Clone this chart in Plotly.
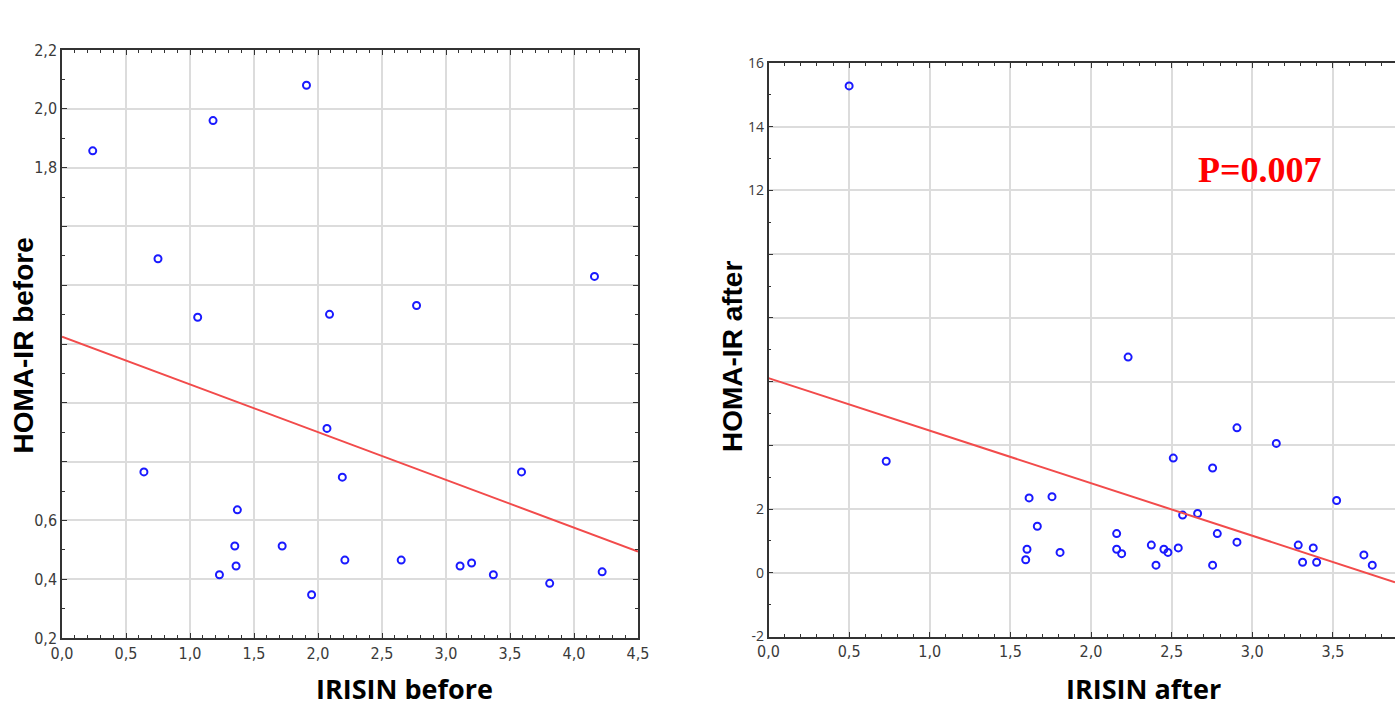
import plotly.graph_objects as go

# ---------------- data ----------------
irisin_before = [0.24, 1.18, 1.91, 0.75, 1.06, 2.09, 2.77, 4.16, 2.07, 0.64, 3.59, 2.19,
                 1.37, 1.35, 1.72, 1.36, 1.23, 2.21, 2.65, 3.11, 3.20, 3.37, 3.81, 4.22, 1.95]
homa_before = [1.857, 1.960, 2.080, 1.490, 1.291, 1.301, 1.331, 1.430, 0.913, 0.765, 0.765, 0.747,
               0.636, 0.513, 0.513, 0.445, 0.415, 0.465, 0.465, 0.445, 0.455, 0.415, 0.386, 0.425, 0.347]

irisin_after = [0.50, 0.73, 2.23, 2.905, 3.149, 2.510, 2.754, 1.616, 1.758, 3.523, 2.568, 2.661,
                1.667, 2.159, 2.783, 2.905, 2.374, 1.603, 2.159, 2.452, 2.541, 3.285, 3.378,
                3.692, 1.808, 2.190, 2.477, 1.595, 2.403, 2.754, 3.312, 3.399, 3.744]
homa_after = [15.28, 3.50, 6.77, 4.55, 4.06, 3.60, 3.29, 2.35, 2.39, 2.27, 1.81, 1.86,
              1.46, 1.23, 1.23, 0.96, 0.87, 0.74, 0.74, 0.74, 0.78, 0.87, 0.78,
              0.56, 0.64, 0.60, 0.64, 0.41, 0.24, 0.24, 0.33, 0.33, 0.24]

# regression lines (intercept, slope) as drawn
fit_before = (1.225, -0.1624)
fit_after = (6.11, -1.649)

x_range_before = [0.0, 4.5]
y_range_before = [0.2, 2.2]
x_range_after = [0.0, 3.885]
y_range_after = [-2, 16]

x_ticks_before = [0.0, 0.5, 1.0, 1.5, 2.0, 2.5, 3.0, 3.5, 4.0, 4.5]
y_ticks_before = [0.2, 0.4, 0.6, 0.8, 1.0, 1.2, 1.4, 1.6, 1.8, 2.0, 2.2]
y_ticktext_before = ["0,2", "0,4", "0,6", "", "", "", "", "", "1,8", "2,0", "2,2"]
y_minor_before = [0.3, 0.5, 0.7, 0.9, 1.1, 1.3, 1.5, 1.7, 1.9, 2.1]
x_ticks_after = [0.0, 0.5, 1.0, 1.5, 2.0, 2.5, 3.0, 3.5]
y_ticks_after = [-2, 0, 2, 4, 6, 8, 10, 12, 14, 16]
y_ticktext_after = ["-2", "0", "2", "", "", "", "", "12", "14", "16"]

p_text = "P=0.007"

# ---------------- figure ----------------
W, H = 1395, 708
BLUE = "#1a1aff"
RED = "#f24b4b"
GRID = "#dcdcdc"
AXIS = "#333333"
NARROW = "Liberation Sans Narrow, DejaVu Sans Condensed, Arial Narrow, sans-serif"
TITLE_Y = "Liberation Sans, Arial, sans-serif"
TITLE_X = "Open Sans, Liberation Sans, sans-serif"


def px(v):
    return v / W


def py(v):
    return 1 - v / H


fig = go.Figure()

marker = dict(symbol="circle-open", size=7, color=BLUE, line=dict(width=2, color=BLUE))

fig.add_trace(go.Scatter(x=irisin_before, y=homa_before, mode="markers", marker=marker,
                         xaxis="x", yaxis="y", showlegend=False))
fig.add_trace(go.Scatter(
    x=x_range_before, y=[fit_before[0] + fit_before[1] * v for v in x_range_before],
    mode="lines", line=dict(color=RED, width=2), xaxis="x", yaxis="y", showlegend=False))

fig.add_trace(go.Scatter(x=irisin_after, y=homa_after, mode="markers", marker=marker,
                         xaxis="x2", yaxis="y2", showlegend=False))
fig.add_trace(go.Scatter(
    x=x_range_after, y=[fit_after[0] + fit_after[1] * v for v in x_range_after],
    mode="lines", line=dict(color=RED, width=2), xaxis="x2", yaxis="y2", showlegend=False))

common_axis = dict(
    automargin=False,
    showgrid=True, gridcolor=GRID, gridwidth=1.5, zeroline=False,
    showline=True, linecolor=AXIS, linewidth=1.5,
    ticks="inside", ticklen=5, tickcolor=AXIS, tickwidth=1,
    tickfont=dict(family=NARROW, size=16, color="#3a3a3a"),
)
minor_style = dict(ticks="inside", ticklen=3, tickcolor=AXIS, showgrid=False)

fig.update_layout(
    width=W, height=H,
    margin=dict(l=0, r=0, t=0, b=0),
    paper_bgcolor="white", plot_bgcolor="white",
    separators=",.",
    xaxis=dict(common_axis, domain=[px(62), px(638)], range=x_range_before,
               tickvals=x_ticks_before, tickformat=".1f", mirror="allticks",
               minor=dict(minor_style, dtick=0.1), anchor="y"),
    yaxis=dict(common_axis, domain=[py(638), py(50)], range=y_range_before,
               tickvals=y_ticks_before, ticktext=y_ticktext_before, mirror="allticks",
               minor=dict(minor_style, tickvals=y_minor_before), anchor="x"),
    xaxis2=dict(common_axis, domain=[px(768.5), px(1395)], range=x_range_after,
                tickvals=x_ticks_after, tickformat=".1f", mirror="allticks",
                minor=dict(minor_style, dtick=0.1), anchor="y2"),
    yaxis2=dict(common_axis, domain=[py(636.5), py(63)], range=y_range_after,
                tickvals=y_ticks_after, ticktext=y_ticktext_after, mirror=False,
                tickfont=dict(family="Open Sans, Liberation Sans, sans-serif", size=14, color="#3a3a3a"),
                minor=dict(minor_style, dtick=1), anchor="x2"),
)

annotations = [
    dict(text="<b>HOMA-IR before</b>", x=px(23), y=py(345.5), xref="paper", yref="paper",
         textangle=-90, showarrow=False, xanchor="center", yanchor="middle",
         font=dict(family=TITLE_Y, size=28, color="black")),
    dict(text="<b>HOMA-IR after</b>", x=px(732), y=py(357), xref="paper", yref="paper",
         textangle=-90, showarrow=False, xanchor="center", yanchor="middle",
         font=dict(family=TITLE_Y, size=28, color="black")),
    dict(text="<b>IRISIN before</b>", x=px(404.5), y=py(709), xref="paper", yref="paper",
         showarrow=False, xanchor="center", yanchor="bottom",
         font=dict(family=TITLE_X, size=27, color="black")),
    dict(text="<b>IRISIN after</b>", x=px(1143), y=py(709), xref="paper", yref="paper",
         showarrow=False, xanchor="center", yanchor="bottom",
         font=dict(family=TITLE_X, size=27, color="black")),
    dict(text="<b>" + p_text + "</b>", x=3.05, y=12.63, xref="x2", yref="y2",
         showarrow=False, xanchor="center", yanchor="middle",
         font=dict(family="Liberation Serif, Times New Roman, serif", size=36, color="#ff0000")),
]
fig.update_layout(annotations=annotations)

fig.write_html("out.html", config={"displayModeBar": False},
               post_script="document.body.style.margin='0px';document.body.style.overflow='hidden';")
